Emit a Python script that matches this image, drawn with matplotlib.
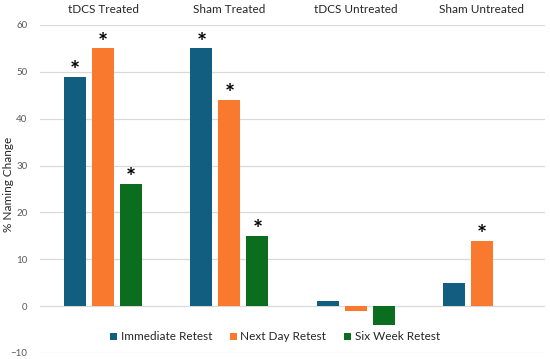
import numpy as np
import matplotlib.pyplot as plt

plt.rcParams['font.family'] = ['Lato', 'DejaVu Sans']

groups = ['tDCS Treated', 'Sham Treated', 'tDCS Untreated', 'Sham Untreated']
series = ['Immediate Retest', 'Next Day Retest', 'Six Week Retest']
immediate = [49, 55, 1, 5]
next_day = [55, 44, -1, 14]
six_week = [26, 15, -4, 0]
# which bars carry a significance asterisk
sig_immediate = [True, True, False, False]
sig_next_day = [True, True, False, True]
sig_six_week = [True, True, False, False]

colors = ['#115e80', '#f97a2e', '#0b6e1f']

fig = plt.figure(figsize=(5.5, 3.59), dpi=100)
ax = fig.add_axes([40 / 550, 6 / 359, 505 / 550, 328 / 359])

x = np.arange(len(groups))
step = 0.222
width = 0.174
values = [immediate, next_day, six_week]
sigs = [sig_immediate, sig_next_day, sig_six_week]
for i, (vals, sig, name) in enumerate(zip(values, sigs, series)):
    pos = x + (i - 1) * step
    ax.bar(pos, vals, width, color=colors[i], label=name, zorder=3)
    for p, v, s in zip(pos, vals, sig):
        if s:
            ax.text(p, v - 1.3, '*', ha='center', va='bottom', fontsize=17,
                    fontweight='bold', color='black', zorder=4)

ax.set_xlim(-0.5, len(groups) - 0.5)
ax.set_ylim(-10, 60)
ax.set_yticks(range(-10, 61, 10))
ax.yaxis.grid(True, color='#d9d9d9', linewidth=0.9, zorder=0)
ax.set_axisbelow(True)
for sp in ax.spines.values():
    sp.set_visible(False)
ax.tick_params(axis='y', length=0, labelsize=7, labelcolor='#595959', pad=9)

ax.xaxis.tick_top()
ax.set_xticks(x)
ax.set_xticklabels(groups, fontsize=8.5, color='#262626')
ax.tick_params(axis='x', length=0, pad=7)

ax.set_ylabel('% Naming Change', fontsize=8.5, color='#262626')
ax.yaxis.set_label_coords(-0.052, 0.515)

leg = fig.legend(loc='center', bbox_to_anchor=(0.5, (359 - 337) / 359), ncol=3,
                 frameon=False, fontsize=8.5, handlelength=0.6, handleheight=0.6,
                 handletextpad=0.3, columnspacing=1.5)
for t in leg.get_texts():
    t.set_color('#262626')

fig.savefig('out.png', dpi=100)
